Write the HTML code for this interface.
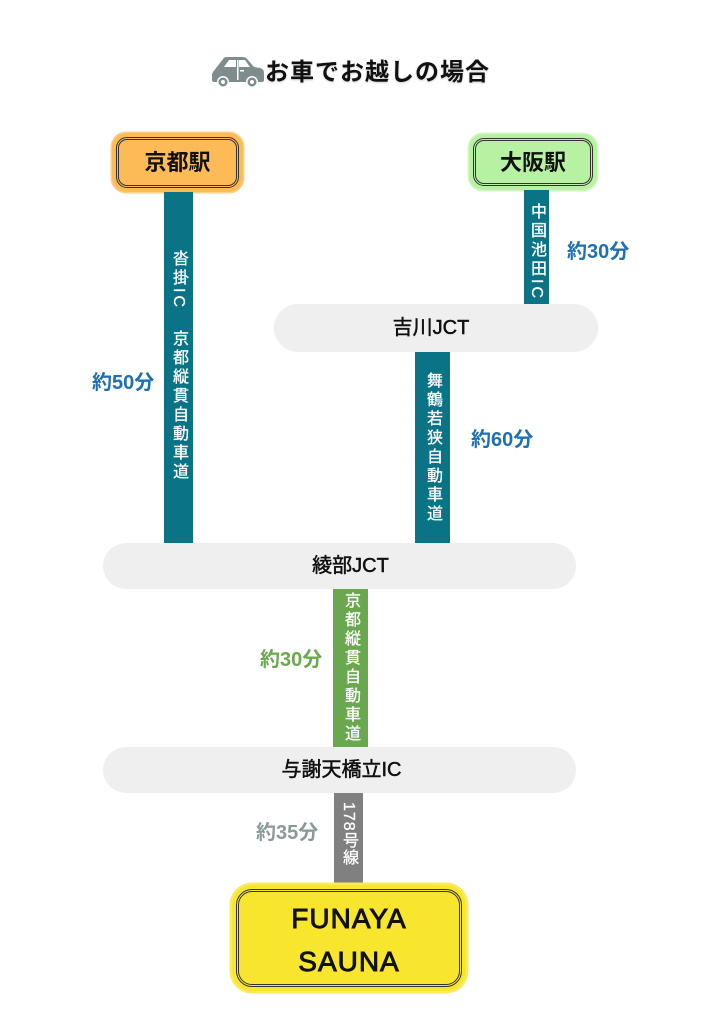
<!DOCTYPE html>
<html><head><meta charset="utf-8"><style>
*{margin:0;padding:0;box-sizing:border-box}
body{width:724px;height:1024px;background:#fff;position:relative;overflow:hidden;font-family:"Liberation Sans","Noto Sans CJK JP",sans-serif}
.a{position:absolute}
.bar{position:absolute}
.vt{position:absolute;writing-mode:vertical-rl;color:#fff;font-size:16px;letter-spacing:3px;line-height:1;font-family:"Liberation Sans","Noto Sans CJK JP",sans-serif;-webkit-text-stroke:0.3px #fff}
.pill{position:absolute;background:#efefef;border-radius:24px;text-align:center;color:#111;font-size:20px;-webkit-text-stroke:0.5px #111}
.time{position:absolute;font-size:20px;font-weight:bold;line-height:1}
.box{position:absolute;border-radius:14px}
.box .in{position:absolute;left:4px;top:4px;right:4px;bottom:4px;border:3px double #333;border-radius:11px}
.box .t{position:absolute;left:0;right:0;text-align:center;color:#111}
</style></head><body>

<!-- title -->
<svg class="a" style="left:210px;top:55px" width="56" height="34" viewBox="0 0 56 34">
  <path d="M3 17 L13 4 Q14 2 17 2 L33 2 Q36 2 38 5 L44 12 L50 13 Q54 14 54 18 L54 25 Q54 27 52 27 L4 27 Q2 27 2 25 L2 19 Z" fill="#7f8c8d"/>
  <path d="M14 12 L19 5 L26 5 L26 12 Z" fill="#fff"/>
  <path d="M29 5 L35 5 L40 12 L29 12 Z" fill="#fff"/>
  <rect x="27" y="5" width="1.5" height="20" fill="#fff"/>
  <rect x="30" y="15" width="4" height="1.5" fill="#fff"/>
  <circle cx="13" cy="27" r="6" fill="#fff"/><circle cx="13" cy="27" r="4.5" fill="#7f8c8d"/><circle cx="13" cy="27" r="2" fill="#fff"/>
  <circle cx="42" cy="27" r="6" fill="#fff"/><circle cx="42" cy="27" r="4.5" fill="#7f8c8d"/><circle cx="42" cy="27" r="2" fill="#fff"/>
</svg>
<div class="a" style="left:265px;top:58px;font-size:24px;letter-spacing:1px;line-height:30px;color:#111;font-weight:bold;text-shadow:0 1px 2px rgba(0,0,0,0.2)">お車でお越しの場合</div>

<!-- Kyoto station -->
<div class="box" style="left:112px;top:133px;width:131px;height:59px;background:#fdbb58;box-shadow:0 0 0 1.5px #fdd08a">
  <div class="in"></div>
  <div class="t" style="top:17px;font-size:22px;font-weight:bold;line-height:26px">京都駅</div>
</div>

<!-- Osaka station -->
<div class="box" style="left:469px;top:134px;width:128px;height:56px;background:#b7f2a2;box-shadow:0 0 0 1.5px #d1f7c2">
  <div class="in"></div>
  <div class="t" style="top:16px;font-size:22px;font-weight:bold;line-height:26px">大阪駅</div>
</div>

<!-- left teal bar -->
<div class="bar" style="left:164px;top:192px;width:29px;height:351px;background:#0a7385"></div>
<div class="vt" style="left:170px;top:250px">沓掛IC</div>
<div class="vt" style="left:170px;top:330px">京都縦貫自動車道</div>
<div class="time" style="left:92px;top:373px;color:#1f6fb3">約50分</div>

<!-- right top teal bar -->
<div class="bar" style="left:524px;top:190px;width:25px;height:114px;background:#0a7385"></div>
<div class="vt" style="left:528px;top:203px">中国池田IC</div>
<div class="time" style="left:567px;top:242px;color:#1f6fb3">約30分</div>

<!-- Yoshikawa JCT -->
<div class="pill" style="left:274px;top:304px;width:324px;height:48px;line-height:48px"><span style="position:relative;left:-5px">吉川JCT</span></div>

<!-- middle teal bar -->
<div class="bar" style="left:415px;top:352px;width:35px;height:191px;background:#0a7385"></div>
<div class="vt" style="left:424px;top:372px">舞鶴若狭自動車道</div>
<div class="time" style="left:471px;top:430px;color:#1f6fb3">約60分</div>

<!-- Ayabe JCT -->
<div class="pill" style="left:103px;top:543px;width:473px;height:46px;line-height:46px"><span style="position:relative;left:11px">綾部JCT</span></div>

<!-- green bar -->
<div class="bar" style="left:333px;top:589px;width:35px;height:158px;background:#6aa84f"></div>
<div class="vt" style="left:342px;top:592px">京都縦貫自動車道</div>
<div class="time" style="left:260px;top:650px;color:#6aa84f">約30分</div>

<!-- Yosano IC -->
<div class="pill" style="left:103px;top:747px;width:473px;height:46px;line-height:46px"><span style="position:relative;left:2px">与謝天橋立IC</span></div>

<!-- gray bar -->
<div class="bar" style="left:334px;top:793px;width:29px;height:90px;background:#808080"></div>
<div class="vt" style="left:340px;top:802px;letter-spacing:1px">178号線</div>
<div class="time" style="left:256px;top:823px;color:#8a9a9a">約35分</div>

<!-- FUNAYA SAUNA -->
<div class="box" style="left:232px;top:885px;width:234px;height:106px;background:#f8e52e;box-shadow:0 0 0 2.5px #fbeb5a;border-radius:20px">
  <div class="in" style="border-radius:16px"></div>
  <div class="t" style="top:12px;font-size:28px;line-height:43px;letter-spacing:1px;-webkit-text-stroke:0.9px #111">FUNAYA<br>SAUNA</div>
</div>

</body></html>
